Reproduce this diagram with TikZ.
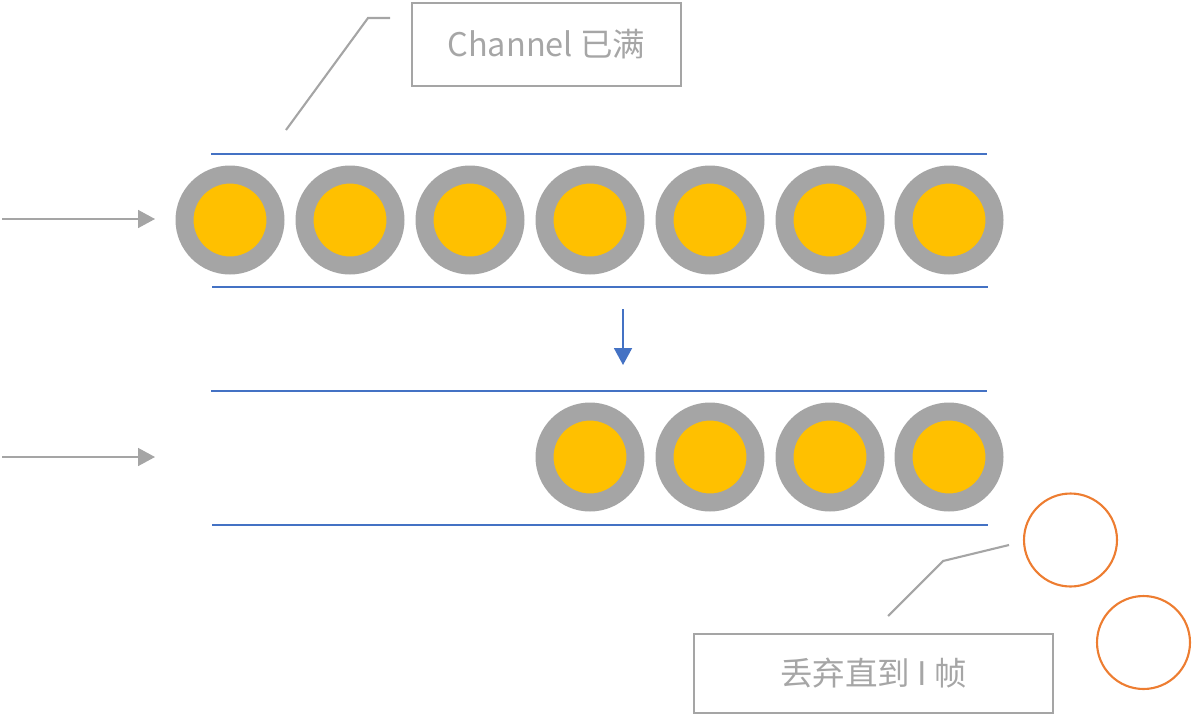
\documentclass[tikz,border=0pt]{standalone}
\usepackage{fontspec}
\setmainfont{Noto Sans CJK SC}
\usetikzlibrary{arrows.meta}
\definecolor{ringgray}{HTML}{A5A5A5}
\definecolor{gold}{HTML}{FFC000}
\definecolor{chanblue}{HTML}{4472C4}
\definecolor{dropred}{HTML}{ED7D31}
\definecolor{txtgray}{HTML}{A6A6A6}
\begin{document}
\begin{tikzpicture}[
    x=0.02cm, y=-0.02cm,
    frame/.style={circle, draw=ringgray, line width=0.36cm, fill=gold,
                  minimum size=1.82cm, inner sep=0pt},
    dropped/.style={circle, draw=dropred, line width=1.2pt,
                    minimum size=1.86cm, inner sep=0pt},
    note/.style={draw=ringgray, line width=1.2pt, text=txtgray,
                 minimum width=5.38cm, minimum height=1.66cm,
                 font=\fontsize{18.5}{20}\selectfont},
    wall/.style={chanblue, line width=0.9pt},
    feed/.style={-{Triangle[length=0.34cm, width=0.36cm]}, ringgray, line width=0.9pt},
    lead/.style={ringgray, line width=1.2pt},
]
\useasboundingbox (0,0) rectangle (1200,717);

% full channel
\draw[wall] (211,154) -- (987,154);
\draw[wall] (212,287) -- (988,287);
\node[frame] (f1) at (230,220) {};
\node[frame] (f2) at (350,220) {};
\node[frame] (f3) at (470,220) {};
\node[frame] (f4) at (590,220) {};
\node[frame] (f5) at (710,220) {};
\node[frame] (f6) at (830,220) {};
\node[frame] (f7) at (949,220) {};

\coordinate (inA) at (2,219);
\coordinate (inAend) at (155,219);
\draw[feed] (inA) -- (inAend);

\node[note, minimum width=5.38cm] (full) at (546.5,44.5) {Channel 已满};
\coordinate (fullknee) at (390,18);
\coordinate (fullbend) at (368,18);
\coordinate (fulltip) at (286,130);
\draw[lead] (fullknee) -- (fullbend) -- (fulltip);

% after dropping
\coordinate (dnA) at (623,309);
\coordinate (dnB) at (623,365);
\draw[-{Triangle[length=0.34cm, width=0.36cm]}, chanblue, line width=1.1pt] (dnA) -- (dnB);

\draw[wall] (211,391) -- (987,391);
\draw[wall] (212,525) -- (988,525);
\node[frame] (g1) at (590,457) {};
\node[frame] (g2) at (710,457) {};
\node[frame] (g3) at (830,457) {};
\node[frame] (g4) at (949,457) {};

\coordinate (inB) at (2,457);
\coordinate (inBend) at (155,457);
\draw[feed] (inB) -- (inBend);

\node[dropped] (d1) at (1070.5,540) {};
\node[dropped] (d2) at (1143.5,642.5) {};

\node[note, minimum width=7.18cm, minimum height=1.58cm] (drop) at (873.5,673.5) {丢弃直到 I 帧};
\coordinate (dropknee) at (1009,545);
\coordinate (dropbend) at (943,561);
\coordinate (droptip) at (888,616);
\draw[lead] (dropknee) -- (dropbend) -- (droptip);
\end{tikzpicture}
\end{document}
